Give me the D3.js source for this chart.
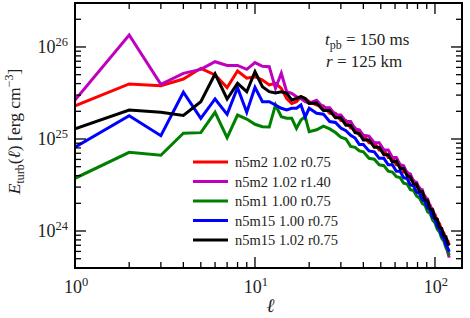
<!DOCTYPE html>
<html>
<head>
<meta charset="utf-8">
<script src="https://cdn.jsdelivr.net/npm/d3@7"></script>
<style>
  body { margin: 0; background: #fff; }
  svg text { font-family: "Liberation Serif", "DejaVu Serif", serif; fill: #222; }
</style>
</head>
<body>
<div id="chart"></div>
<script>
// multipole index
const ell = [1, 2, 3, 4, 5, 6, 7, 8, 9, 10, 11, 12, 13, 14, 15, 16, 17, 18, 19, 20,
    22, 24, 26, 28, 30, 32, 34, 36, 38, 40,
    43, 46, 49, 52, 55, 58, 61, 64, 67, 70, 73, 76, 79, 82, 85, 88, 91, 94, 97, 100,
    103, 106, 109, 112, 115, 118, 120];

// log10 of E_turb
const logRed = [25.36, 25.598, 25.58, 25.652, 25.768, 25.696, 25.558, 25.739, 25.66, 25.677, 25.64, 25.587, 25.605, 25.55, 25.44, 25.386, 25.405, 25.46, 25.44, 25.405,
    25.37, 25.36, 25.28, 25.28, 25.20, 25.20, 25.12, 25.12, 25.04, 25.04,
    24.96, 24.96, 24.88, 24.88, 24.80, 24.80, 24.72, 24.72, 24.64, 24.64, 24.56, 24.55, 24.48, 24.47, 24.40, 24.38, 24.30, 24.28, 24.20, 24.18,
    24.10, 24.08, 24.00, 23.98, 23.91, 23.89, 23.85];
const logMagenta = [25.424, 26.13, 25.594, 25.714, 25.757, 25.84, 25.80, 25.80, 25.757, 25.83, 25.79, 25.786, 25.55, 25.714, 25.514, 25.497, 25.46, 25.44, 25.405, 25.39,
    25.42, 25.34, 25.34, 25.26, 25.26, 25.19, 25.19, 25.11, 25.10, 25.04,
    25.03, 24.96, 24.96, 24.88, 24.88, 24.80, 24.80, 24.72, 24.71, 24.63, 24.62, 24.54, 24.53, 24.46, 24.45, 24.36, 24.35, 24.26, 24.24, 24.15,
    24.12, 24.03, 24.00, 23.91, 23.86, 23.76, 23.71];
const logGreen = [24.573, 24.855, 24.823, 25.062, 25.069, 25.29, 25.014, 25.26, 25.217, 25.16, 25.134, 25.13, 25.37, 25.243, 25.225, 25.225, 25.116, 25.207, 25.243, 25.08,
    25.10, 25.14, 25.11, 25.07, 25.02, 25.00, 24.92, 24.91, 24.87, 24.86,
    24.79, 24.78, 24.72, 24.71, 24.65, 24.64, 24.59, 24.58, 24.52, 24.51, 24.45, 24.44, 24.38, 24.36, 24.30, 24.28, 24.21, 24.19, 24.12, 24.09,
    24.02, 23.99, 23.92, 23.89, 23.82, 23.78, 23.74];
const logBlue = [24.91, 25.253, 25.036, 25.508, 25.225, 25.435, 25.268, 25.558, 25.29, 25.562, 25.405, 25.405, 25.37, 25.334, 25.315, 25.334, 25.334, 25.37, 25.24, 25.334,
    25.28, 25.27, 25.19, 25.18, 25.12, 25.09, 25.04, 25.01, 24.94, 24.94,
    24.87, 24.86, 24.79, 24.79, 24.72, 24.72, 24.65, 24.65, 24.58, 24.57, 24.50, 24.49, 24.42, 24.41, 24.34, 24.32, 24.25, 24.23, 24.15, 24.13,
    24.05, 24.02, 23.95, 23.92, 23.85, 23.81, 23.775];
const logBlack = [25.11, 25.315, 25.29, 25.255, 25.405, 25.707, 25.435, 25.605, 25.514, 25.732, 25.568, 25.514, 25.50, 25.514, 25.497, 25.424, 25.44, 25.46, 25.44, 25.386,
    25.39, 25.31, 25.31, 25.23, 25.23, 25.15, 25.15, 25.07, 25.06, 24.99,
    24.99, 24.91, 24.91, 24.83, 24.83, 24.75, 24.76, 24.68, 24.68, 24.60, 24.59, 24.51, 24.51, 24.43, 24.43, 24.34, 24.33, 24.24, 24.23, 24.14,
    24.13, 24.04, 24.03, 23.95, 23.94, 23.86, 23.84];

const seriesNames = ["n5m2 1.02 r0.75", "n5m2 1.02 r1.40", "n5m1 1.00 r0.75", "n5m15 1.00 r0.75", "n5m15 1.02 r0.75"];
const seriesColors = ["#ff0000", "#bf00bf", "#008000", "#0000ff", "#000000"];
const seriesLogs = [logRed, logMagenta, logGreen, logBlue, logBlack];

const xTicks = [1, 10, 100];
const yTicks = [1e24, 1e25, 1e26];

const W = 470, H = 318;
const margin = {left: 75, right: 8, top: 3, bottom: 50};

const svg = d3.select("#chart").append("svg")
    .attr("width", W)
    .attr("height", H);

const x = d3.scaleLog()
    .domain([1, 141.3])
    .range([margin.left, W - margin.right]);

const y = d3.scaleLog()
    .domain([Math.pow(10, 23.598), Math.pow(10, 26.478)])
    .range([H - margin.bottom, margin.top]);

svg.append("clipPath").attr("id", "clip")
    .append("rect")
    .attr("x", margin.left)
    .attr("y", margin.top)
    .attr("width", W - margin.left - margin.right)
    .attr("height", H - margin.top - margin.bottom);

// lines
const line = d3.line()
    .x(d => x(d[0]))
    .y(d => y(d[1]));

const plot = svg.append("g").attr("clip-path", "url(#clip)");

seriesLogs.forEach(function (logs, i) {
    let pts = ell.map((l, j) => [l, Math.pow(10, logs[j])]);
    plot.append("path")
        .datum(pts)
        .attr("d", line)
        .attr("fill", "none")
        .attr("stroke", seriesColors[i])
        .attr("stroke-width", 3)
        .attr("stroke-linejoin", "miter");
});

// ticks (inward, on all four sides)
const majLen = 11, minLen = 6;
const ticks = svg.append("g")
    .attr("stroke", "#000")
    .attr("stroke-width", 1.3);

const xMinor = [];
[1, 10, 100].forEach(d => { for (let k = 2; k <= 9; k++) { if (d * k <= 141.3) xMinor.push(d * k); } });
const yMinor = [];
[1e23, 1e24, 1e25, 1e26].forEach(d => { for (let k = 2; k <= 9; k++) {
    let v = d * k;
    if (v > y.domain()[0] && v < y.domain()[1]) yMinor.push(v);
} });

const x0 = margin.left, x1 = W - margin.right, y0 = H - margin.bottom, y1 = margin.top;

xTicks.concat(xMinor).forEach(function (t) {
    let len = xTicks.includes(t) ? majLen : minLen;
    ticks.append("line").attr("x1", x(t)).attr("x2", x(t)).attr("y1", y0).attr("y2", y0 - len);
    ticks.append("line").attr("x1", x(t)).attr("x2", x(t)).attr("y1", y1).attr("y2", y1 + len);
});
yTicks.concat(yMinor).forEach(function (t) {
    let len = yTicks.includes(t) ? majLen : minLen;
    ticks.append("line").attr("y1", y(t)).attr("y2", y(t)).attr("x1", x0).attr("x2", x0 + len);
    ticks.append("line").attr("y1", y(t)).attr("y2", y(t)).attr("x1", x1).attr("x2", x1 - len);
});

// frame
svg.append("rect")
    .attr("x", x0).attr("y", y1)
    .attr("width", x1 - x0).attr("height", y0 - y1)
    .attr("fill", "none")
    .attr("stroke", "#000")
    .attr("stroke-width", 2);

// tick labels
xTicks.forEach(function (t) {
    let txt = svg.append("text")
        .attr("x", x(t) + 1)
        .attr("y", y0 + 25)
        .attr("text-anchor", "middle")
        .style("font-size", "18px");
    txt.append("tspan").text("10");
    txt.append("tspan").attr("dy", -7).style("font-size", "12.5px").text(Math.round(Math.log10(t)));
});
yTicks.forEach(function (t) {
    let txt = svg.append("text")
        .attr("x", x0 - 7)
        .attr("y", y(t) + 6)
        .attr("text-anchor", "end")
        .style("font-size", "18px");
    txt.append("tspan").text("10");
    txt.append("tspan").attr("dy", -7).style("font-size", "12.5px").text(Math.round(Math.log10(t)));
});

// axis labels
svg.append("text")
    .attr("x", (x0 + x1) / 2 + 2)
    .attr("y", H - 6)
    .attr("text-anchor", "middle")
    .style("font-size", "19px")
    .style("font-style", "italic")
    .text("ℓ");

const yl = svg.append("text")
    .attr("transform", `translate(20, ${(y0 + y1) / 2 - 4}) rotate(-90)`)
    .attr("text-anchor", "middle")
    .style("font-size", "17.5px");
yl.append("tspan").style("font-style", "italic").text("E");
yl.append("tspan").attr("dy", 4).style("font-size", "12px").text("turb");
yl.append("tspan").attr("dy", -4).text("(");
yl.append("tspan").style("font-style", "italic").text("ℓ");
yl.append("tspan").text(") [erg cm");
yl.append("tspan").attr("dy", -7).style("font-size", "12px").text("−3");
yl.append("tspan").attr("dy", 7).text("]");

// annotation
const a1 = svg.append("text").attr("x", 325).attr("y", 45).style("font-size", "17px");
a1.append("tspan").style("font-style", "italic").text("t");
a1.append("tspan").attr("dy", 4).style("font-size", "12px").text("pb");
a1.append("tspan").attr("dy", -4).text(" = 150 ms");

const a2 = svg.append("text").attr("x", 326).attr("y", 67).style("font-size", "17px");
a2.append("tspan").style("font-style", "italic").text("r");
a2.append("tspan").text(" = 125 km");

// legend
const legend = svg.append("g");
seriesNames.forEach(function (name, i) {
    let ly = 162 + 19.5 * i;
    legend.append("line")
        .attr("x1", 193).attr("x2", 228)
        .attr("y1", ly).attr("y2", ly)
        .attr("stroke", seriesColors[i])
        .attr("stroke-width", 3);
    legend.append("text")
        .attr("x", 235)
        .attr("y", ly + 5)
        .style("font-size", "14.5px")
        .text(name);
});
</script>
</body>
</html>
